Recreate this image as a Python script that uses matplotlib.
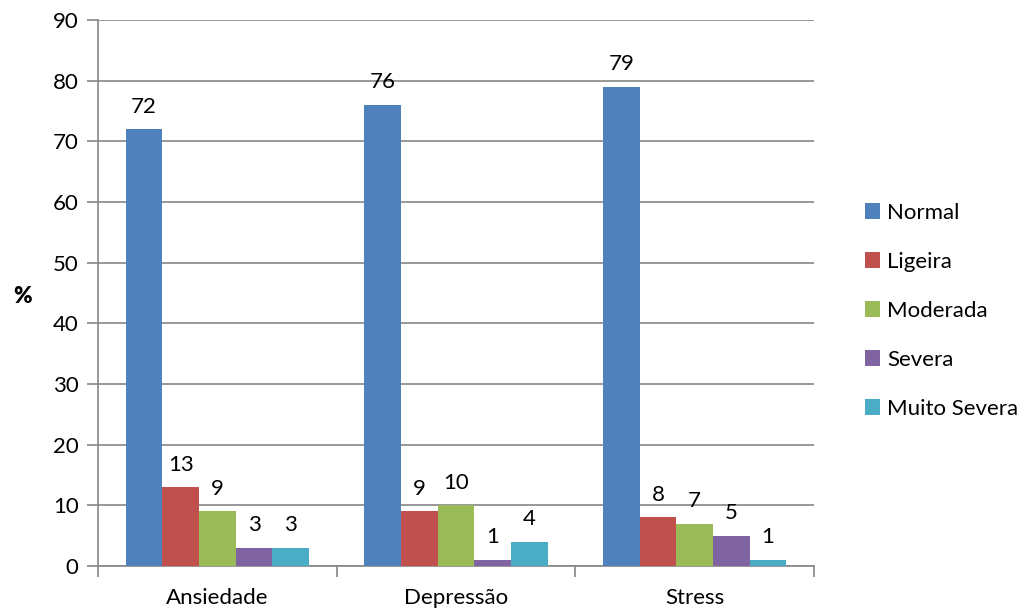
import numpy as np
import matplotlib.pyplot as plt

plt.rcParams['font.family'] = ['Lato', 'DejaVu Sans']

categories = ["Ansiedade", "Depressão", "Stress"]
levels = ["Normal", "Ligeira", "Moderada", "Severa", "Muito Severa"]
normal = [72, 76, 79]
ligeira = [13, 9, 8]
moderada = [9, 10, 7]
severa = [3, 1, 5]
muito_severa = [3, 4, 1]

series = [normal, ligeira, moderada, severa, muito_severa]
colors = ["#4F81BD", "#C0504D", "#9BBB59", "#8064A2", "#4BACC6"]
grey = "#868686"
fs = 16

fig = plt.figure(figsize=(10.24, 6.13), dpi=100)
ax = fig.add_axes([0.0957, 0.0767, 0.6993, 0.8907])

x = np.arange(len(categories))
group_w = 0.767
bar_w = group_w / len(series)

for i, (vals, col, name) in enumerate(zip(series, colors, levels)):
    pos = x - group_w / 2 + bar_w * (i + 0.5)
    bars = ax.bar(pos, vals, width=bar_w, color=col, label=name, zorder=3)
    for b, v in zip(bars, vals):
        ax.annotate(str(v), (b.get_x() + b.get_width() / 2, v),
                    xytext=(0, 9), textcoords="offset points",
                    ha="center", va="bottom", fontsize=fs, color="black")

ax.set_xlim(-0.5, len(categories) - 0.5)
ax.set_ylim(0, 90)
ax.set_yticks(range(0, 91, 10))
ax.yaxis.grid(True, color=grey, linewidth=1.2, zorder=0)
ax.set_axisbelow(True)

ax.set_xticks(x)
ax.set_xticklabels(categories, fontsize=fs)
ax.set_xticks(np.arange(-0.5, len(categories)), minor=True)
ax.tick_params(axis="x", which="major", length=0, pad=16)
ax.tick_params(axis="x", which="minor", length=8, width=1.2, color=grey, direction="out")
ax.tick_params(axis="y", length=8, width=1.2, color=grey, labelsize=fs, pad=6)

for s in ["top", "right"]:
    ax.spines[s].set_visible(False)
for s in ["left", "bottom"]:
    ax.spines[s].set_color(grey)
    ax.spines[s].set_linewidth(1.2)

ax.set_ylabel("%", rotation=0, fontsize=fs, fontweight="heavy", va="center", ha="center")
ax.yaxis.set_label_coords(-0.106, 0.493)

fig.legend(loc="center left", bbox_to_anchor=(0.825, 0.493), frameon=False,
           fontsize=fs, handlelength=0.7, handleheight=0.7,
           handletextpad=0.3, labelspacing=1.3)

fig.savefig("out.png", dpi=100)
